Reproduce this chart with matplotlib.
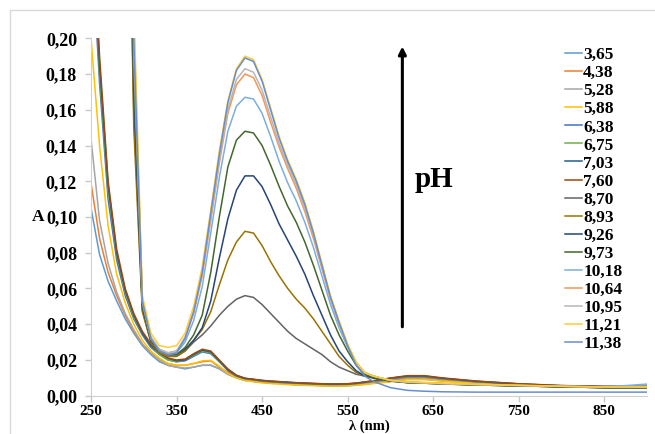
import numpy as np
import matplotlib
matplotlib.use("Agg")
import matplotlib.pyplot as plt
from matplotlib.patches import Rectangle

# длины волн, нм
wl = [250, 260, 270, 280, 290, 300, 310, 320, 330, 340,
      350, 360, 370, 380, 390, 400, 410, 420, 430, 440,
      450, 460, 470, 480, 490, 500, 510, 520, 530, 540,
      550, 560, 570, 580, 600, 620, 640, 660, 700, 750,
      800, 850, 900]

ph_labels = ["3,65", "4,38", "5,28", "5,88", "6,38", "6,75", "7,03", "7,60", "8,70",
             "8,93", "9,26", "9,73", "10,18", "10,64", "10,95", "11,21", "11,38"]

colors = ["#5B9BD5", "#ED7D31", "#A5A5A5", "#FFC000", "#4472C4", "#70AD47", "#255E91",
          "#9E480E", "#636363", "#997300", "#264478", "#43682B", "#7CAFDD", "#F1975A",
          "#B7B7B7", "#FFCD33", "#698ED0"]

# поглощение (значения)
a_365 = [0.105, 0.079, 0.064, 0.053, 0.043, 0.035, 0.028, 0.023, 0.019, 0.017,
         0.016, 0.015, 0.016, 0.017, 0.017, 0.015, 0.012, 0.010, 0.0085, 0.008,
         0.0075, 0.007, 0.007, 0.0065, 0.006, 0.006, 0.006, 0.0055, 0.0055, 0.0055,
         0.0055, 0.006, 0.0065, 0.007, 0.008, 0.0092, 0.0092, 0.0083, 0.007, 0.006,
         0.005, 0.0048, 0.0048]
a_438 = [0.119, 0.088, 0.069, 0.056, 0.045, 0.036, 0.029, 0.024, 0.020, 0.018,
         0.017, 0.017, 0.018, 0.019, 0.0195, 0.016, 0.013, 0.011, 0.009, 0.0085,
         0.008, 0.0075, 0.0072, 0.007, 0.0068, 0.0066, 0.0064, 0.0062, 0.006, 0.006,
         0.006, 0.0062, 0.0066, 0.0072, 0.0085, 0.0098, 0.0098, 0.0088, 0.0072, 0.0062,
         0.0052, 0.005, 0.005]
a_528 = [0.144, 0.098, 0.074, 0.058, 0.046, 0.037, 0.029, 0.024, 0.020, 0.017,
         0.016, 0.0155, 0.016, 0.017, 0.0172, 0.0152, 0.012, 0.010, 0.0088, 0.008,
         0.0075, 0.007, 0.0068, 0.0066, 0.0064, 0.0062, 0.006, 0.0058, 0.0057, 0.0057,
         0.0058, 0.006, 0.0065, 0.0072, 0.0082, 0.0094, 0.0094, 0.0085, 0.007, 0.006,
         0.0052, 0.005, 0.005]
a_588 = [0.200, 0.140, 0.095, 0.068, 0.052, 0.040, 0.031, 0.025, 0.021, 0.018,
         0.017, 0.017, 0.018, 0.0195, 0.0198, 0.0165, 0.0125, 0.010, 0.0085, 0.0078,
         0.0072, 0.0068, 0.0065, 0.0062, 0.006, 0.0058, 0.0056, 0.0055, 0.0054, 0.0054,
         0.0055, 0.0058, 0.0062, 0.0068, 0.0078, 0.009, 0.009, 0.0082, 0.0068, 0.0058,
         0.005, 0.0046, 0.0046]
a_638 = [0.260, 0.175, 0.110, 0.076, 0.056, 0.043, 0.034, 0.027, 0.023, 0.020,
         0.019, 0.0195, 0.022, 0.0245, 0.0235, 0.019, 0.014, 0.011, 0.0095, 0.009,
         0.0082, 0.0078, 0.0075, 0.0072, 0.007, 0.0068, 0.0066, 0.0064, 0.0063, 0.0063,
         0.0064, 0.0068, 0.0074, 0.008, 0.0093, 0.0105, 0.0105, 0.0095, 0.0078, 0.0064,
         0.0054, 0.005, 0.005]
a_675 = [0.270, 0.180, 0.115, 0.079, 0.058, 0.044, 0.035, 0.028, 0.023, 0.020,
         0.019, 0.020, 0.0225, 0.025, 0.024, 0.019, 0.0145, 0.0112, 0.0096, 0.009,
         0.0084, 0.008, 0.0077, 0.0074, 0.0071, 0.0069, 0.0067, 0.0065, 0.0064, 0.0064,
         0.0065, 0.0069, 0.0075, 0.0082, 0.0096, 0.0108, 0.0108, 0.0097, 0.008, 0.0066,
         0.0055, 0.0051, 0.0051]
a_703 = [0.275, 0.185, 0.118, 0.080, 0.059, 0.045, 0.035, 0.028, 0.024, 0.021,
         0.0195, 0.020, 0.023, 0.0255, 0.0245, 0.0195, 0.0145, 0.0113, 0.0097, 0.0091,
         0.0085, 0.0081, 0.0078, 0.0075, 0.0072, 0.007, 0.0068, 0.0066, 0.0065, 0.0065,
         0.0066, 0.007, 0.0076, 0.0083, 0.0098, 0.011, 0.011, 0.0098, 0.0081, 0.0066,
         0.0056, 0.0052, 0.0052]
a_760 = [0.285, 0.190, 0.120, 0.082, 0.060, 0.046, 0.036, 0.029, 0.024, 0.021,
         0.020, 0.0205, 0.0235, 0.026, 0.025, 0.020, 0.015, 0.0115, 0.0098, 0.0092,
         0.0086, 0.0082, 0.0079, 0.0076, 0.0073, 0.0071, 0.0069, 0.0067, 0.0066, 0.0066,
         0.0067, 0.0071, 0.0077, 0.0084, 0.0099, 0.0112, 0.0112, 0.010, 0.0082, 0.0067,
         0.0057, 0.0052, 0.0052]
a_870 = [0.60, 0.60, 0.60, 0.55, 0.40, 0.16, 0.048, 0.030, 0.024, 0.022,
         0.022, 0.025, 0.030, 0.034, 0.039, 0.045, 0.050, 0.054, 0.056, 0.055,
         0.051, 0.046, 0.041, 0.036, 0.032, 0.029, 0.026, 0.023, 0.019, 0.016,
         0.014, 0.012, 0.011, 0.010, 0.0085, 0.0075, 0.0072, 0.0068, 0.0062, 0.0056,
         0.005, 0.0046, 0.0046]
a_893 = [0.60, 0.60, 0.60, 0.55, 0.42, 0.15, 0.047, 0.030, 0.024, 0.022,
         0.022, 0.025, 0.031, 0.037, 0.047, 0.062, 0.076, 0.086, 0.092, 0.091,
         0.084, 0.075, 0.067, 0.060, 0.054, 0.049, 0.043, 0.036, 0.029, 0.022,
         0.017, 0.013, 0.011, 0.010, 0.0083, 0.0074, 0.0071, 0.0067, 0.0061, 0.0055,
         0.005, 0.0045, 0.0045]
a_926 = [0.60, 0.60, 0.60, 0.58, 0.45, 0.17, 0.050, 0.031, 0.025, 0.023,
         0.023, 0.026, 0.031, 0.038, 0.053, 0.077, 0.099, 0.115, 0.123, 0.123,
         0.117, 0.107, 0.096, 0.087, 0.078, 0.068, 0.056, 0.045, 0.034, 0.025,
         0.019, 0.014, 0.011, 0.010, 0.0082, 0.0073, 0.007, 0.0066, 0.006, 0.0055,
         0.005, 0.0045, 0.0045]
a_973 = [0.60, 0.60, 0.60, 0.58, 0.46, 0.18, 0.050, 0.031, 0.025, 0.023,
         0.023, 0.027, 0.034, 0.045, 0.069, 0.100, 0.128, 0.143, 0.148, 0.147,
         0.140, 0.129, 0.117, 0.106, 0.097, 0.086, 0.073, 0.059, 0.045, 0.034,
         0.025, 0.017, 0.012, 0.010, 0.0082, 0.0073, 0.007, 0.0066, 0.006, 0.0055,
         0.005, 0.0045, 0.0045]
a_1018 = [0.60, 0.60, 0.60, 0.60, 0.48, 0.19, 0.052, 0.032, 0.025, 0.023,
          0.024, 0.030, 0.042, 0.061, 0.091, 0.122, 0.148, 0.162, 0.167, 0.166,
          0.158, 0.145, 0.131, 0.119, 0.109, 0.097, 0.083, 0.067, 0.051, 0.038,
          0.027, 0.018, 0.013, 0.011, 0.0085, 0.0075, 0.0071, 0.0067, 0.0062, 0.0057,
          0.0052, 0.0048, 0.0065]
a_1064 = [0.60, 0.60, 0.60, 0.60, 0.50, 0.20, 0.053, 0.032, 0.026, 0.024,
          0.025, 0.032, 0.046, 0.067, 0.098, 0.130, 0.158, 0.174, 0.180, 0.178,
          0.168, 0.153, 0.139, 0.127, 0.116, 0.103, 0.088, 0.071, 0.054, 0.040,
          0.028, 0.018, 0.013, 0.011, 0.0085, 0.0076, 0.0072, 0.0068, 0.0062, 0.0057,
          0.0052, 0.0048, 0.0048]
a_1095 = [0.60, 0.60, 0.60, 0.60, 0.50, 0.21, 0.054, 0.033, 0.026, 0.024,
          0.025, 0.033, 0.047, 0.069, 0.100, 0.132, 0.160, 0.177, 0.183, 0.181,
          0.171, 0.156, 0.141, 0.129, 0.118, 0.105, 0.090, 0.072, 0.055, 0.040,
          0.028, 0.018, 0.013, 0.011, 0.0086, 0.0077, 0.0073, 0.0069, 0.0063, 0.0058,
          0.0053, 0.0049, 0.0049]
a_1121 = [0.60, 0.60, 0.60, 0.60, 0.52, 0.22, 0.056, 0.035, 0.028, 0.027,
          0.028, 0.035, 0.050, 0.072, 0.104, 0.137, 0.165, 0.183, 0.190, 0.188,
          0.177, 0.161, 0.145, 0.132, 0.121, 0.108, 0.092, 0.074, 0.056, 0.042,
          0.029, 0.019, 0.013, 0.011, 0.0087, 0.0078, 0.0074, 0.007, 0.0064, 0.0058,
          0.0053, 0.0049, 0.0049]
a_1138 = [0.60, 0.60, 0.60, 0.60, 0.50, 0.20, 0.053, 0.032, 0.025, 0.023,
          0.024, 0.032, 0.047, 0.069, 0.102, 0.135, 0.164, 0.182, 0.189, 0.187,
          0.176, 0.160, 0.144, 0.131, 0.120, 0.107, 0.091, 0.073, 0.055, 0.041,
          0.028, 0.017, 0.011, 0.008, 0.0045, 0.003, 0.0025, 0.0022, 0.002, 0.002,
          0.002, 0.002, 0.002]

spectra = [a_365, a_438, a_528, a_588, a_638, a_675, a_703, a_760, a_870,
           a_893, a_926, a_973, a_1018, a_1064, a_1095, a_1121, a_1138]

plt.rcParams['font.family'] = ['Liberation Serif', 'DejaVu Serif']
plt.rcParams['font.weight'] = 'bold'

fig = plt.figure(figsize=(6.55, 4.34), dpi=100)
# серая рамка области диаграммы
fig.patches.append(Rectangle((10 / 655, -0.2), 1.2, 1 - 10 / 434 + 0.2, transform=fig.transFigure,
                             fill=False, edgecolor='#D9D9D9', lw=1.0))

ax = fig.add_axes([91 / 655, 1 - 395.7 / 434, (647 - 91) / 655, (395.7 - 38.3) / 434])

for y, c, lab in zip(spectra, colors, ph_labels):
    ax.plot(wl, y, color=c, lw=1.1, label=lab)

ax.set_xlim(250, 900)
ax.set_ylim(0, 0.2)
yt = np.arange(0, 0.201, 0.02)
ax.set_yticks(yt)
ax.set_yticklabels([f"{v:.2f}".replace('.', ',') for v in yt])
ax.set_xticks([250, 350, 450, 550, 650, 750, 850])
for s in ['top', 'right']:
    ax.spines[s].set_visible(False)
for s in ['left', 'bottom']:
    ax.spines[s].set_color('#D0D0D0')
ax.tick_params(axis='both', colors='#C8C8C8', labelcolor='black', length=4, width=1)
ax.tick_params(axis='y', pad=6, labelsize=13)
ax.tick_params(axis='x', pad=3, labelsize=11)
for t in ax.get_xticklabels() + ax.get_yticklabels():
    t.set_fontweight('bold')

fig.text(38 / 655, 1 - 217 / 434, "A", ha='center', va='center', fontsize=12.5, fontweight='bold')
fig.text(369 / 655, 1 - 433 / 434, "λ (nm)", ha='center', va='bottom', fontsize=10.5, fontweight='bold')

# стрелка pH
ax.annotate("", xy=(614, 0.197), xytext=(614, 0.037),
            arrowprops=dict(arrowstyle='-|>', color='black', lw=2.2, mutation_scale=11))
ax.text(628, 0.121, "pH", fontsize=21, fontweight='bold', va='center', ha='left')

leg = ax.legend(loc='upper left', bbox_to_anchor=(565 / 655, 1 - 47 / 434),
                bbox_transform=fig.transFigure, frameon=False, fontsize=12.5,
                handlelength=1.0, handletextpad=0.05, labelspacing=0.11,
                borderpad=0, borderaxespad=0)
for t in leg.get_texts():
    t.set_fontweight('bold')

fig.savefig("out.png", dpi=100)
